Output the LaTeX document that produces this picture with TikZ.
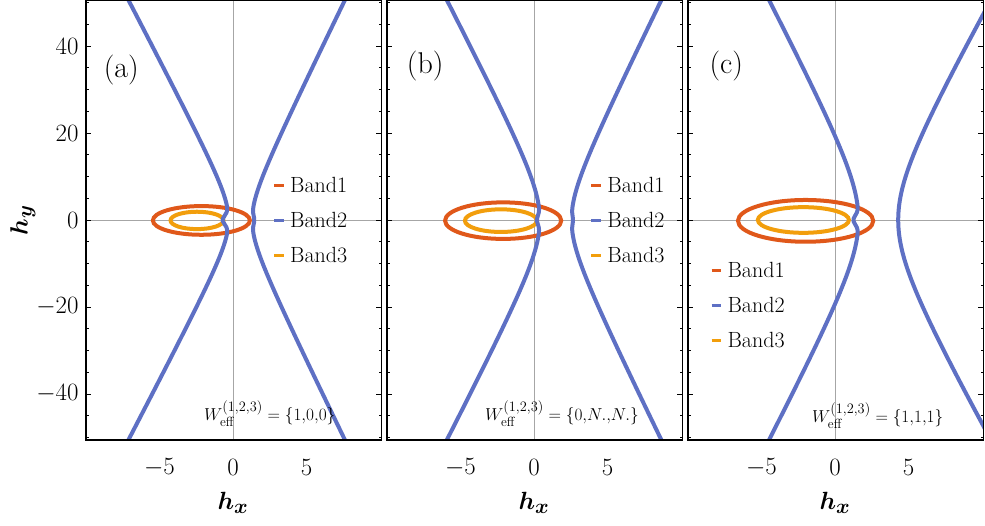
\documentclass[tikz,border=0pt]{standalone}
\usepackage{amsmath}
\definecolor{bblue}{RGB}{94,112,196}
\definecolor{bred}{RGB}{224,88,26}
\definecolor{borange}{RGB}{242,158,12}
\tikzset{
  blu/.style={bblue,line width=4pt},
  red1/.style={bred,line width=4pt},
  ora/.style={borange,line width=4pt},
  frm/.style={black,line width=1.5pt},
  axl/.style={gray!70,line width=0.6pt},
  tkk/.style={black,line width=0.5pt},
  lab/.style={font=\fontsize{22}{25}\selectfont,anchor=west,inner sep=0pt},
  numl/.style={font=\fontsize{27}{30}\selectfont,inner sep=0pt},
  wl/.style={font=\fontsize{19}{22}\selectfont,inner sep=0pt},
  pl/.style={font=\fontsize{30}{34}\selectfont,inner sep=0pt},
  hl/.style={font=\fontsize{32}{36}\selectfont\boldmath,inner sep=0pt},
}
\newcommand\myticks{%
  \foreach \v in {-10,...,10}{\draw[tkk] (\v,-50.6)--++(0,0.8pt); \draw[tkk] (\v,50.6)--++(0,-0.8pt);}
  \foreach \v in {-5,0,5}{\draw[tkk] (\v,-50.6)--++(0,1.3pt); \draw[tkk] (\v,50.6)--++(0,-1.3pt);}
  \foreach \v in {-50,-45,...,50}{\draw[tkk] (-10,\v)--++(0.2,0); \draw[tkk] (10.1,\v)--++(-0.2,0);}
  \foreach \v in {-40,-20,0,20,40}{\draw[tkk] (-10,\v)--++(0.35,0); \draw[tkk] (10.1,\v)--++(-0.35,0);}
}
\newcommand\mylegend[4]{%
  \draw[red1,line width=3pt] (#1,#2)--++(0.65,0) node[lab,black,right=5pt] (l1#4) {Band1};
  \draw[blu,line width=3pt] (#1,#2-#3)--++(0.65,0) node[lab,black,right=5pt] (l2#4) {Band2};
  \draw[ora,line width=3pt] (#1,#2-2*#3)--++(0.65,0) node[lab,black,right=5pt] (l3#4) {Band3};
}
\begin{document}
\begin{tikzpicture}[x=1pt,y=1pt]
\useasboundingbox (0,0) rectangle (985,526);
\fill[white] (0,0) rectangle (985,526);
% ---------- panel a
\begin{scope}[shift={(233pt,306pt)},x=14.7pt,y=4.35pt]
 \begin{scope}
 \clip (-10,-50.6) rectangle (10.1,50.6);
 \draw[axl] (0,-51)--(0,51); \draw[axl] (-10,0)--(10.1,0);
 \draw[red1] (-2.15,-0.1) ellipse [x radius=3.3,y radius=3.3];
 \draw[ora] (-2.45,-0.1) ellipse [x radius=1.8,y radius=2.0];
 \draw[blu,smooth] plot[domain=-53:53,samples=160,variable=\t] ({0.8-sqrt(1.21+(0.155*\t)^2)-0.4*exp(-(\t/1.5)^2)},\t);
 \draw[blu,smooth] plot[domain=-53:53,samples=160,variable=\t] ({0.2+sqrt(1.21+(0.145*\t)^2)+0.15*exp(-(\t/1.5)^2)},\t);
 \end{scope}
 \myticks
 \draw[frm] (-10,-50.6) rectangle (10.1,50.6);
 \node[pl] (pa) at (-7.6,34.5) {(a)};
 \mylegend{2.8}{8}{8.05}{a}
 \node[wl] (wa) at (2.5,-44.5) {$W_{\text{eff}}^{(1,2,3)}=\{1{,}0{,}0\}$};
 \foreach \v in {40,20,0,-20,-40}{\node[numl,anchor=east] at (-10.5,\v) {$\v$};}
 \foreach \v in {-5,0,5}{\node[numl] at (\v,-57) {$\v$};}
 \node[hl] (hxa) at (0,-65) {$h_x$};
 \node[hl,rotate=90] (hy) at (-14.3,0) {$h_y$};
\end{scope}
% ---------- panel b
\begin{scope}[shift={(534pt,306pt)},x=14.7pt,y=4.35pt]
 \begin{scope}
 \clip (-10,-50.6) rectangle (10.1,50.6);
 \draw[axl] (0,-51)--(0,51); \draw[axl] (-10,0)--(10.1,0);
 \draw[red1] (-2.1,-0.15) ellipse [x radius=3.95,y radius=4.2];
 \draw[ora] (-2.25,-0.15) ellipse [x radius=2.45,y radius=2.6];
 \draw[blu,smooth] plot[domain=-53:53,samples=160,variable=\t] ({2.0-sqrt(2.56+(0.1536*\t)^2)-0.2*exp(-(\t/1.5)^2)},\t);
 \draw[blu,smooth] plot[domain=-53:53,samples=160,variable=\t] ({1.15+sqrt(1.96+(0.146*\t)^2)+0.1*exp(-(\t/1.5)^2)},\t);
 \end{scope}
 \myticks
 \draw[frm] (-10,-50.6) rectangle (10.1,50.6);
 \node[pl] (pb) at (-7.4,35.5) {(b)};
 \mylegend{3.9}{8}{8.05}{b}
 \node[wl] (wb) at (1.9,-44.5) {$W_{\text{eff}}^{(1,2,3)}=\{0{,}N.{,}N.\}$};
 \foreach \v in {-5,0,5}{\node[numl] at (\v,-57) {$\v$};}
 \node[hl] (hxb) at (0,-65) {$h_x$};
\end{scope}
% ---------- panel c
\begin{scope}[shift={(835pt,306pt)},x=14.7pt,y=4.35pt]
 \begin{scope}
 \clip (-10,-50.6) rectangle (10.1,50.6);
 \draw[axl] (0,-51)--(0,51); \draw[axl] (-10,0)--(10.1,0);
 \draw[red1] (-2.0,-0.2) ellipse [x radius=4.6,y radius=4.8];
 \draw[ora] (-2.15,0) ellipse [x radius=3.1,y radius=2.95];
 \draw[blu,smooth] plot[domain=-53:53,samples=160,variable=\t] ({3.6-sqrt(4+(0.155*\t)^2)-0.35*exp(-(\t/1.5)^2)},\t);
 \draw[blu,smooth] plot[domain=-53:53,samples=160,variable=\t] ({1.8+sqrt(6.25+(0.167*\t)^2)},\t);
 \end{scope}
 \myticks
 \draw[frm] (-10,-50.6) rectangle (10.1,50.6);
 \node[pl] (pc) at (-7.4,35.5) {(c)};
 \mylegend{-8.4}{-11.5}{8.05}{c}
 \node[wl] (wc) at (2.9,-45) {$W_{\text{eff}}^{(1,2,3)}=\{1{,}1{,}1\}$};
 \foreach \v in {-5,0,5}{\node[numl] at (\v,-57) {$\v$};}
 \node[hl] (hxc) at (0,-65) {$h_x$};
\end{scope}
\end{tikzpicture}
\end{document}
